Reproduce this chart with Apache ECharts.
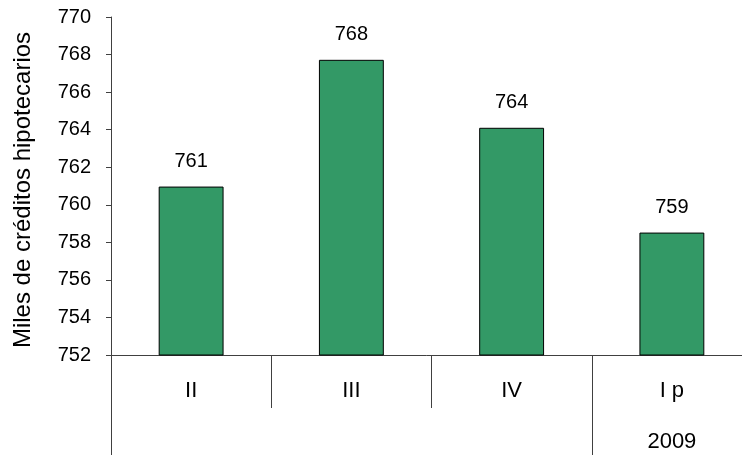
<!DOCTYPE html>
<html>
<head>
<meta charset="utf-8">
<script src="https://cdn.jsdelivr.net/npm/echarts@6/dist/echarts.min.js"></script>
<style>
  html, body { margin: 0; padding: 0; background: #ffffff; }
  #chart { width: 742px; height: 455px; }
</style>
</head>
<body>
<div id="chart"></div>
<script>
// Quarterly stock of mortgage loans (thousands)
const quarters = ['II', 'III', 'IV', 'I p'];
const years = ['', '', '', '2009'];
const credits = [760.97, 767.72, 764.1, 758.52];
const yTicks = { min: 752, max: 770, step: 2 };

const FONT = 'Liberation Sans, Arial, sans-serif';
const AXIS_COLOR = '#404040';

const chart = echarts.init(document.getElementById('chart'), null, { renderer: 'canvas' });

chart.setOption({
  animation: false,
  backgroundColor: '#ffffff',
  // plot area runs a little past the right edge of the canvas
  grid: {
    left: 111, width: 641, top: 17, bottom: 100,
    containLabel: false,
    outerBoundsMode: 'none'
  },
  xAxis: [
    {
      type: 'category',
      data: quarters,
      position: 'bottom',
      axisLine: { show: true, lineStyle: { color: AXIS_COLOR, width: 1 } },
      axisTick: { show: true, interval: 0, length: 53, lineStyle: { color: AXIS_COLOR, width: 1 } },
      axisLabel: { interval: 0, margin: 25, color: '#000', fontFamily: FONT, fontSize: 22 },
      splitLine: { show: false }
    },
    {
      type: 'category',
      data: years,
      position: 'bottom',
      offset: 53,
      axisLine: { show: false },
      axisTick: {
        show: true,
        length: 47,
        interval: function (index) { return index === 0 || index === 3; },
        lineStyle: { color: AXIS_COLOR, width: 1 }
      },
      axisLabel: { interval: 0, margin: 23, color: '#000', fontFamily: FONT, fontSize: 22 },
      splitLine: { show: false }
    }
  ],
  yAxis: {
    type: 'value',
    min: yTicks.min,
    max: yTicks.max,
    interval: yTicks.step,
    name: 'Miles de créditos hipotecarios',
    nameLocation: 'middle',
    nameGap: 76,
    nameTextStyle: { color: '#000', fontFamily: FONT, fontSize: 24, padding: [0, 8, 0, 0] },
    axisLine: { show: true, lineStyle: { color: AXIS_COLOR, width: 1 } },
    axisTick: { show: true, length: 5, lineStyle: { color: AXIS_COLOR, width: 1 } },
    axisLabel: { margin: 20, color: '#000', fontFamily: FONT, fontSize: 20 },
    splitLine: { show: false }
  },
  series: [
    {
      type: 'bar',
      xAxisIndex: 0,
      data: credits,
      barWidth: '40.5%',
      itemStyle: { color: '#339966', borderColor: '#000', borderWidth: 1 },
      label: {
        show: true,
        position: 'top',
        distance: 15,
        color: '#000',
        fontFamily: FONT,
        fontSize: 20,
        formatter: function (p) { return Math.round(p.value); }
      }
    }
  ]
});
</script>
</body>
</html>
